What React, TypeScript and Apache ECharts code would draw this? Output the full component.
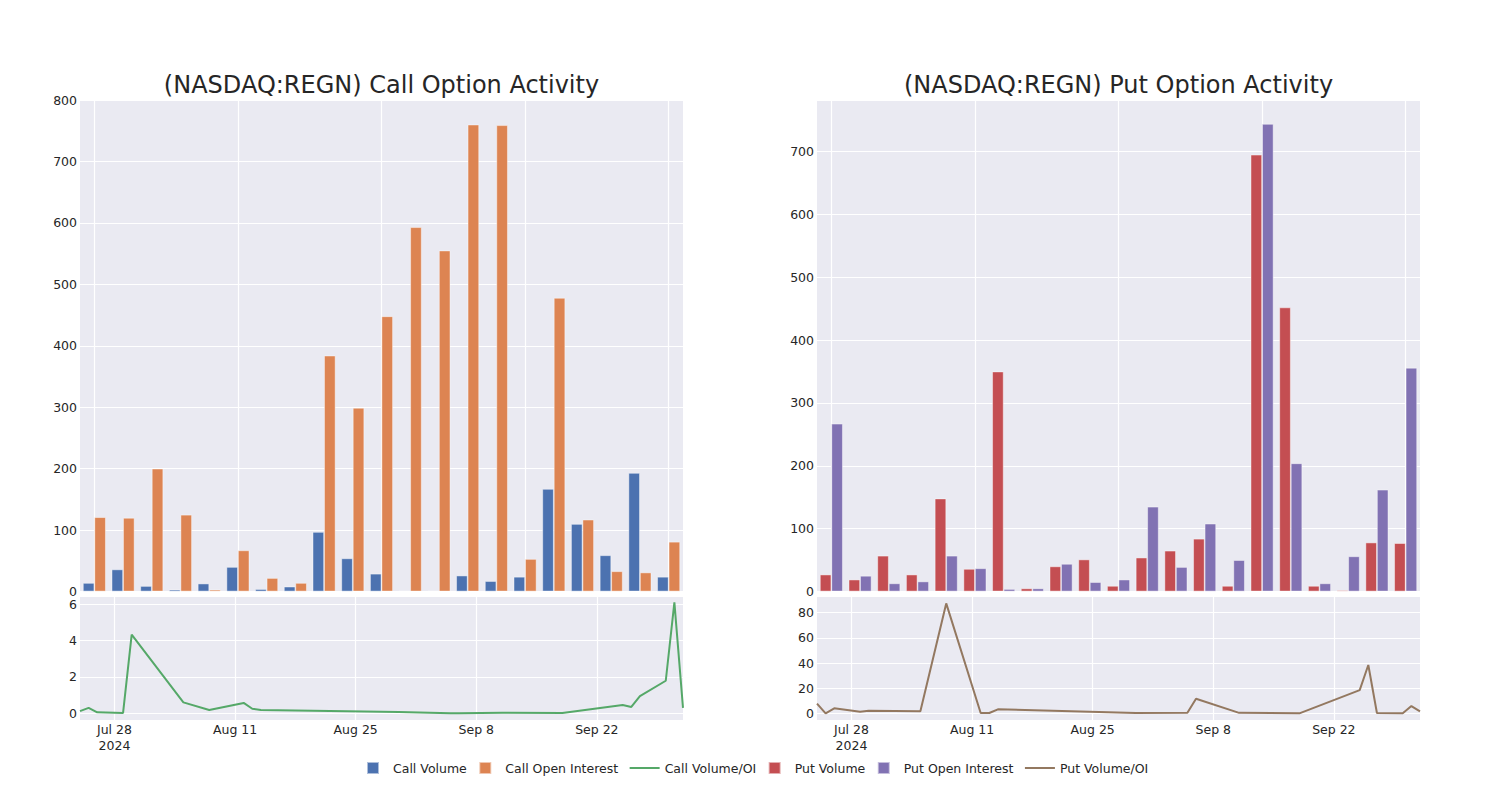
import React, { useEffect, useRef } from 'react';
import * as echarts from 'echarts';

const dates = [
  '2024-07-24', '2024-07-25', '2024-07-26', '2024-07-29', '2024-07-30', '2024-08-05', '2024-08-08',
  '2024-08-12', '2024-08-13', '2024-08-14', '2024-08-30', '2024-09-05', '2024-09-06', '2024-09-11',
  '2024-09-18', '2024-09-25', '2024-09-26', '2024-09-27', '2024-09-30', '2024-10-01', '2024-10-02',
];
const callVolume = [14, 36, 9, 3, 13, 40, 4, 8, 97, 54, 29, 1, 1, 26, 17, 24, 167, 110, 59, 193, 24];
const callOpenInterest = [121, 120, 200, 125, 3, 67, 22, 14, 384, 299, 448, 593, 555, 760, 759, 53, 478, 117, 33, 31, 81];
const callRatio = [0.12, 0.3, 0.05, 0.02, 4.33, 0.6, 0.18, 0.57, 0.25, 0.18, 0.065, 0.0, 0.0, 0.03, 0.02, 0.45, 0.35, 0.94, 1.79, 6.1, 0.3];
const putVolume = [27, 19, 57, 27, 148, 36, 350, 5, 40, 51, 9, 54, 65, 84, 9, 695, 452, 9, 2, 78, 77];
const putOpenInterest = [267, 25, 13, 16, 57, 37, 4, 5, 44, 15, 19, 135, 39, 108, 50, 744, 204, 13, 56, 162, 356];
const putRatio = [7.7, 0.0, 4.0, 1.3, 2.1, 1.6, 87.4, 0.3, 0.3, 3.2, 0.2, 0.5, 11.6, 0.4, 0.0, 18.5, 38.4, 0.3, 0.1, 5.8, 1.6];

const dateTicks = ['2024-07-28', '2024-08-11', '2024-08-25', '2024-09-08', '2024-09-22'];
const barGridTicks = [0, 5, 10, 15, 20];
const callRatioTicks = [0, 2, 4, 6];
const putRatioTicks = [0, 20, 40, 60, 80];
const callTitle = '(NASDAQ:REGN) Call Option Activity';
const putTitle = '(NASDAQ:REGN) Put Option Activity';
const monthNames = ['Jan', 'Feb', 'Mar', 'Apr', 'May', 'Jun', 'Jul', 'Aug', 'Sep', 'Oct', 'Nov', 'Dec'];

const toTs = (s: string) => {
  const [y, m, d] = s.split('-').map(Number);
  return new Date(y, m - 1, d).getTime();
};

const FONT = 'DejaVu Sans';
const TEXT = '#262626';
const BG = '#eaeaf2';
const C = {
  callVol: '#4c72b0',
  callOI: '#dd8452',
  callRatio: '#55a868',
  putVol: '#c44e52',
  putOI: '#8172b3',
  putRatio: '#937860',
};

const dateFormatter = (v: number) => {
  const d = new Date(v);
  const s = `${monthNames[d.getMonth()]} ${d.getDate()}`;
  return Math.abs(toTs(dateTicks[0]) - v) < 1000 ? `${s}\n${d.getFullYear()}` : s;
};

const SQUARE = 'path://M0,0H10V10H0Z';
const LINE = 'path://M0,0H30V2H0Z';

export default function App() {
  const ref = useRef<HTMLDivElement>(null);
  useEffect(() => {
    const chart = echarts.init(ref.current!, null, { renderer: 'svg' });
    const gridLine = { show: true, lineStyle: { color: '#ffffff', width: 1.2 } };
    const yLabel = { fontSize: 12.5, color: TEXT, fontFamily: FONT, margin: 3 };
    const tsTicks = dateTicks.map(toTs);
    const minTs = toTs(dates[0]);
    const maxTs = toTs(dates[dates.length - 1]);

    const barX = (gridIndex: number) => ({
      type: 'value', gridIndex, min: -0.5, max: dates.length - 0.5,
      axisLine: { show: false },
      axisTick: { show: false, customValues: barGridTicks },
      axisLabel: { show: false, customValues: barGridTicks },
      splitLine: gridLine,
    });
    const timeX = (gridIndex: number) => ({
      type: 'value', gridIndex, min: minTs, max: maxTs,
      axisLine: { show: false },
      axisTick: { show: false, customValues: tsTicks },
      axisLabel: {
        customValues: tsTicks, formatter: dateFormatter, fontSize: 12.5, color: TEXT,
        fontFamily: FONT, margin: 1, lineHeight: 16,
      },
      splitLine: gridLine,
    });

    const option: any = {
      animation: false,
      backgroundColor: '#ffffff',
      textStyle: { fontFamily: FONT },
      graphic: [
        { type: 'text', x: 381.5, y: 84.5, style: { text: callTitle, fill: TEXT, font: `24px '${FONT}'`, align: 'center', verticalAlign: 'middle' } },
        { type: 'text', x: 1118.5, y: 84.5, style: { text: putTitle, fill: TEXT, font: `24px '${FONT}'`, align: 'center', verticalAlign: 'middle' } },
      ],
      legend: {
        top: 761, left: 366, padding: 0, itemWidth: 30, itemHeight: 12, itemGap: 11.5,
        textStyle: { fontSize: 12.5, color: TEXT, fontFamily: FONT },
        data: [
          { name: 'Call Volume', icon: SQUARE },
          { name: 'Call Open Interest', icon: SQUARE },
          { name: 'Call Volume/OI', icon: LINE, itemStyle: { color: C.callRatio } },
          { name: 'Put Volume', icon: SQUARE },
          { name: 'Put Open Interest', icon: SQUARE },
          { name: 'Put Volume/OI', icon: LINE, itemStyle: { color: C.putRatio } },
        ],
      },
      grid: [
        { left: 80, top: 100, width: 603, height: 491.5, show: true, backgroundColor: BG, borderWidth: 0 },
        { left: 80, top: 597, width: 603, height: 123, show: true, backgroundColor: BG, borderWidth: 0 },
        { left: 817, top: 100, width: 603, height: 491.5, show: true, backgroundColor: BG, borderWidth: 0 },
        { left: 817, top: 597, width: 603, height: 123, show: true, backgroundColor: BG, borderWidth: 0 },
      ],
      xAxis: [barX(0), timeX(1), barX(2), timeX(3)],
      yAxis: [
        {
          type: 'value', gridIndex: 0, min: 0, max: 800, interval: 100,
          axisLine: { show: false }, axisTick: { show: false }, axisLabel: yLabel, splitLine: gridLine,
        },
        {
          type: 'value', gridIndex: 1, min: -0.37, max: 6.4,
          axisLine: { show: false },
          axisTick: { show: false, customValues: callRatioTicks },
          axisLabel: { ...yLabel, customValues: callRatioTicks },
          splitLine: gridLine,
        },
        {
          type: 'value', gridIndex: 2, min: 0, max: 782, interval: 100,
          axisLine: { show: false }, axisTick: { show: false },
          axisLabel: { ...yLabel, showMaxLabel: false }, splitLine: gridLine,
        },
        {
          type: 'value', gridIndex: 3, min: -5.3, max: 92.5,
          axisLine: { show: false },
          axisTick: { show: false, customValues: putRatioTicks },
          axisLabel: { ...yLabel, customValues: putRatioTicks },
          splitLine: gridLine,
        },
      ],
      series: [
        {
          name: 'Call Volume', type: 'bar', xAxisIndex: 0, yAxisIndex: 0, barWidth: '40%', barGap: '0%',
          itemStyle: { color: C.callVol, borderColor: 'rgba(255,255,255,0.55)', borderWidth: 0.8 },
          data: dates.map((_, i) => [i, callVolume[i]]),
        },
        {
          name: 'Call Open Interest', type: 'bar', xAxisIndex: 0, yAxisIndex: 0, barWidth: '40%', barGap: '0%',
          itemStyle: { color: C.callOI, borderColor: 'rgba(255,255,255,0.55)', borderWidth: 0.8 },
          data: dates.map((_, i) => [i, callOpenInterest[i]]),
        },
        {
          name: 'Call Volume/OI', type: 'line', xAxisIndex: 1, yAxisIndex: 1, symbol: 'none',
          lineStyle: { color: C.callRatio, width: 2 }, itemStyle: { color: C.callRatio },
          data: dates.map((d, i) => [toTs(d), callRatio[i]]),
        },
        {
          name: 'Put Volume', type: 'bar', xAxisIndex: 2, yAxisIndex: 2, barWidth: '40%', barGap: '0%',
          itemStyle: { color: C.putVol, borderColor: 'rgba(255,255,255,0.55)', borderWidth: 0.8 },
          data: dates.map((_, i) => [i, putVolume[i]]),
        },
        {
          name: 'Put Open Interest', type: 'bar', xAxisIndex: 2, yAxisIndex: 2, barWidth: '40%', barGap: '0%',
          itemStyle: { color: C.putOI, borderColor: 'rgba(255,255,255,0.55)', borderWidth: 0.8 },
          data: dates.map((_, i) => [i, putOpenInterest[i]]),
        },
        {
          name: 'Put Volume/OI', type: 'line', xAxisIndex: 3, yAxisIndex: 3, symbol: 'none',
          lineStyle: { color: C.putRatio, width: 2 }, itemStyle: { color: C.putRatio },
          data: dates.map((d, i) => [toTs(d), putRatio[i]]),
        },
      ],
    };
    chart.setOption(option);
    return () => chart.dispose();
  }, []);
  return (
    <div
      ref={ref}
      style={{ position: 'fixed', left: 0, top: 0, width: 1500, height: 800, background: '#ffffff' }}
    />
  );
}
